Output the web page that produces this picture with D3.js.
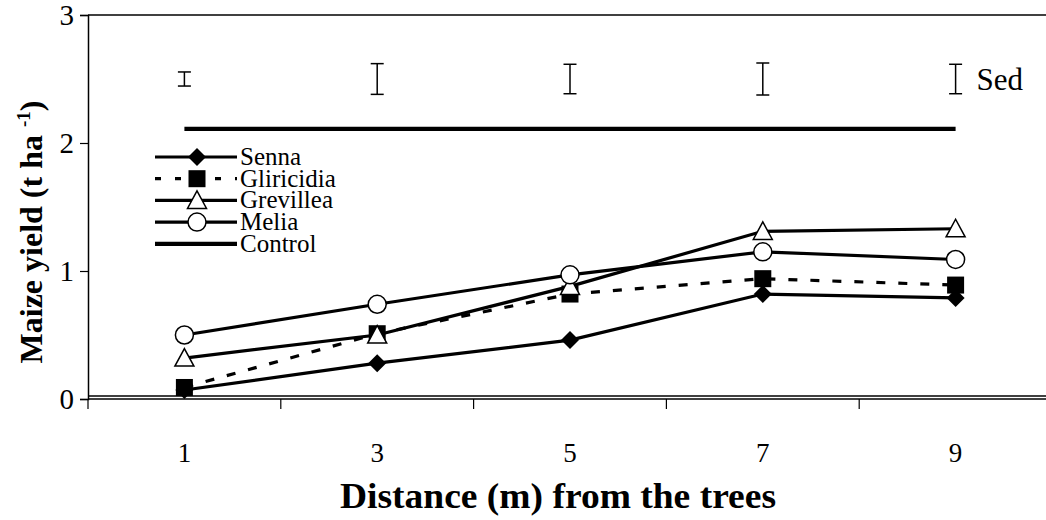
<!DOCTYPE html>
<html lang="en">
<head>
<meta charset="utf-8">
<title>Maize yield by distance from trees</title>
<script src="https://cdn.jsdelivr.net/npm/d3@7"></script>
<style>
  body { margin: 0; background: #fff; }
  svg text { font-family: "Liberation Serif", "Times New Roman", serif; fill: #000; }
  .title { font-weight: bold; }
</style>
</head>
<body>
<svg width="1046" height="520"></svg>
<script>
// distances (m) from the trees
const categories = ["1", "3", "5", "7", "9"];
// maize yield (t/ha) per treatment
const senna      = [0.07, 0.28, 0.46, 0.82, 0.79];
const gliricidia = [0.09, 0.51, 0.82, 0.94, 0.89];
const grevillea  = [0.32, 0.50, 0.88, 1.31, 1.33];
const melia      = [0.50, 0.74, 0.97, 1.15, 1.09];
const control    = [2.11, 2.11, 2.11, 2.11, 2.11];
// standard error of difference, drawn as bars around 2.5
const sed = [0.11, 0.24, 0.23, 0.25, 0.23];
const sedLevel = 2.5;
const yTicks = [0, 1, 2, 3];

const svg = d3.select("svg");
const plotL = 88, plotT = 15, plotB = 399, plotR = 1052;

const x = d3.scaleBand().domain(categories).range([plotL, plotR]);
const cx = c => x(c) + x.bandwidth() / 2;
const y = d3.scaleLinear().domain([0, 3]).range([plotB, plotT]);

// frame
svg.append("line").attr("x1", plotL).attr("x2", 1046).attr("y1", plotT).attr("y2", plotT)
  .attr("stroke", "#000").attr("stroke-width", 1.5);
svg.append("line").attr("x1", plotL).attr("x2", 1046).attr("y1", plotB - 3).attr("y2", plotB - 3)
  .attr("stroke", "#000").attr("stroke-width", 1.5);

// y axis
const yAxis = svg.append("g").attr("transform", `translate(${plotL},0)`)
  .call(d3.axisLeft(y).tickValues(yTicks).tickSize(8).tickPadding(6).tickFormat(d3.format("d")));
yAxis.select(".domain").attr("stroke-width", 1.5);
yAxis.selectAll(".tick line").attr("stroke-width", 1.2);
yAxis.selectAll("text").style("font-size", "29px").attr("dy", "0.34em");

// x axis: ticks between categories, labels at band centres
const xAxis = svg.append("g").attr("transform", `translate(0,${plotB})`);
xAxis.append("line").attr("x1", plotL).attr("x2", 1046).attr("stroke", "#000").attr("stroke-width", 1.5);
xAxis.selectAll("line.tk").data(categories).join("line").attr("class", "tk")
  .attr("x1", d => x(d)).attr("x2", d => x(d)).attr("y1", 0).attr("y2", 10)
  .attr("stroke", "#000").attr("stroke-width", 1.2);
xAxis.selectAll("text").data(categories).join("text")
  .attr("x", d => cx(d)).attr("y", 63).attr("text-anchor", "middle")
  .style("font-size", "27px").text(d => d);

// axis titles
svg.append("text").attr("class", "title")
  .attr("transform", "translate(42,232) rotate(-90)").attr("text-anchor", "middle")
  .style("font-size", "32px")
  .html('Maize yield (t ha <tspan dy="-12" font-size="19px">-1</tspan><tspan dy="12">)</tspan>');
svg.append("text").attr("class", "title")
  .attr("x", 558).attr("y", 508).attr("text-anchor", "middle")
  .attr("textLength", 436).attr("lengthAdjust", "spacingAndGlyphs")
  .style("font-size", "36px").text("Distance (m) from the trees");

// Sed bars
const sedG = svg.append("g");
categories.forEach((c, i) => {
  const y1 = y(sedLevel + sed[i] / 2), y2 = y(sedLevel - sed[i] / 2), xc = cx(c);
  sedG.append("line").attr("x1", xc).attr("x2", xc).attr("y1", y1).attr("y2", y2);
  sedG.append("line").attr("x1", xc - 6.5).attr("x2", xc + 6.5).attr("y1", y1).attr("y2", y1);
  sedG.append("line").attr("x1", xc - 6.5).attr("x2", xc + 6.5).attr("y1", y2).attr("y2", y2);
});
sedG.selectAll("line").attr("stroke", "#000").attr("stroke-width", 1.5);
svg.append("text").attr("x", cx("9") + 21).attr("y", y(sedLevel) + 11)
  .style("font-size", "31px").text("Sed");

// marker painters
const markers = {
  diamond: (g, s) => g.append("path").attr("d", `M0,${-s}L${s},0L0,${s}L${-s},0Z`).attr("fill", "#000"),
  square: (g, s) => g.append("rect").attr("x", -s).attr("y", -s).attr("width", 2 * s).attr("height", 2 * s).attr("fill", "#000"),
  triangle: (g, s) => g.append("path").attr("d", `M0,${-s}L${s},${s * 0.85}L${-s},${s * 0.85}Z`)
    .attr("fill", "#fff").attr("stroke", "#000").attr("stroke-width", 1.5),
  circle: (g, s) => g.append("circle").attr("r", s).attr("fill", "#fff").attr("stroke", "#000").attr("stroke-width", 1.5)
};

const series = [
  { name: "Senna", values: senna, marker: "diamond", size: 9, dash: null },
  { name: "Gliricidia", values: gliricidia, marker: "square", size: 8.5, dash: "9,13" },
  { name: "Grevillea", values: grevillea, marker: "triangle", size: 9.5, dash: null },
  { name: "Melia", values: melia, marker: "circle", size: 9, dash: null },
  { name: "Control", values: control, marker: null, size: 0, dash: null }
];

const line = d3.line().x(d => cx(d.c)).y(d => y(d.v));

series.forEach(s => {
  const pts = categories.map((c, i) => ({ c, v: s.values[i] }));
  svg.append("path").datum(pts).attr("d", line)
    .attr("fill", "none").attr("stroke", "#000")
    .attr("stroke-width", s.marker ? 3.2 : 4.2)
    .attr("stroke-dasharray", s.dash);
  if (s.marker) {
    pts.forEach(p => {
      const g = svg.append("g").attr("transform", `translate(${cx(p.c)},${y(p.v)})`);
      markers[s.marker](g, s.size);
    });
  }
});

// legend
const legend = svg.append("g").attr("transform", "translate(155,157)");
series.forEach((s, i) => {
  const row = legend.append("g").attr("transform", `translate(0,${i * 21.7})`);
  row.append("line").attr("x1", 0).attr("x2", 82).attr("stroke", "#000")
    .attr("stroke-width", s.marker ? 3.2 : 4.2).attr("stroke-dasharray", s.dash ? "6,14" : null);
  if (s.marker) {
    const g = row.append("g").attr("transform", "translate(42,0)");
    markers[s.marker](g, s.size);
  }
  row.append("text").attr("x", 85).attr("y", 8).style("font-size", "25px").text(s.name);
});
</script>
</body>
</html>
